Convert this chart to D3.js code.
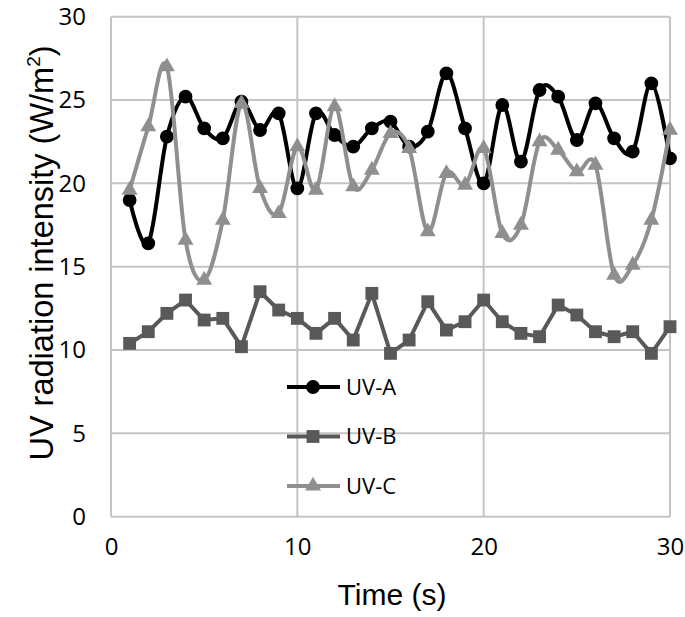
<!DOCTYPE html>
<html><head><meta charset="utf-8">
<script src="https://cdn.jsdelivr.net/npm/d3@7"></script>
<style>body{margin:0;background:#fff}</style>
</head><body>
<svg id="c" width="685" height="617"></svg>
<script>
const time = d3.range(1, 31);
const uvA = [19.0,16.4,22.8,25.2,23.3,22.7,24.9,23.2,24.2,19.7,24.2,22.9,22.2,23.3,23.7,22.2,23.1,26.6,23.3,20.0,24.7,21.3,25.6,25.2,22.6,24.8,22.7,21.9,26.0,21.5];
const uvB = [10.4,11.1,12.2,13.0,11.8,11.9,10.2,13.5,12.4,11.9,11.0,11.9,10.6,13.4,9.8,10.6,12.9,11.2,11.7,13.0,11.7,11.0,10.8,12.7,12.1,11.1,10.8,11.1,9.8,11.4];
const uvC = [19.6,23.4,27.0,16.6,14.2,17.8,24.8,19.7,18.2,22.2,19.6,24.6,19.8,20.8,23.0,22.1,17.1,20.6,19.9,22.1,17.0,17.5,22.5,22.0,20.7,21.1,14.5,15.1,17.8,23.2];
const xTicks = [0,10,20,30];
const yTicks = [0,5,10,15,20,25,30];
const seriesNames = ["UV-A","UV-B","UV-C"];

const series = [
  {name: seriesNames[0], values: uvA, color: "#000000", shape: d3.symbolCircle, curve: d3.curveCardinal.tension(0)},
  {name: seriesNames[1], values: uvB, color: "#595959", shape: d3.symbolSquare, curve: d3.curveLinear},
  {name: seriesNames[2], values: uvC, color: "#8f8f8f", shape: d3.symbolTriangle, curve: d3.curveCardinal.tension(0)}
];

const svg = d3.select("#c");
const L = 111, R = 670, T = 16.7, B = 516.7;
const x = d3.scaleLinear().domain([0, 30]).range([L, R]);
const y = d3.scaleLinear().domain([0, 30]).range([B, T]);
const grid = "#c4c4c4";

const g = svg.append("g");
g.selectAll(".hg").data(yTicks).enter().append("line")
  .attr("x1", L).attr("x2", R).attr("y1", d => y(d)).attr("y2", d => y(d))
  .attr("stroke", grid).attr("stroke-width", 2);
g.selectAll(".vg").data(xTicks).enter().append("line")
  .attr("y1", T).attr("y2", B).attr("x1", d => x(d)).attr("x2", d => x(d))
  .attr("stroke", grid).attr("stroke-width", 2);

const font = "'Open Sans', sans-serif";
const ax = svg.append("g").attr("transform", `translate(0,${B})`)
  .call(d3.axisBottom(x).tickValues(xTicks).tickSize(0).tickPadding(21));
ax.select(".domain").remove();
ax.selectAll("text").attr("font-family", font).attr("font-size", 24).attr("fill", "#000");
const ay = svg.append("g").attr("transform", `translate(${L},0)`)
  .call(d3.axisLeft(y).tickValues(yTicks).tickSize(0).tickPadding(25));
ay.select(".domain").remove();
ay.selectAll("text").attr("font-family", font).attr("font-size", 24).attr("fill", "#000");

const symSize = s => s === d3.symbolTriangle ? 110 : (s === d3.symbolSquare ? 165 : 150);

series.forEach(s => {
  const line = d3.line().x((d, i) => x(time[i])).y(d => y(d)).curve(s.curve);
  svg.append("path").datum(s.values).attr("d", line)
    .attr("fill", "none").attr("stroke", s.color).attr("stroke-width", 4)
    .attr("stroke-linejoin", "round");
  const sym = d3.symbol().type(s.shape).size(symSize(s.shape));
  svg.append("g").selectAll("path").data(s.values).enter().append("path")
    .attr("d", sym)
    .attr("transform", (d, i) => `translate(${x(time[i])},${y(d)})`)
    .attr("fill", s.color);
});

const leg = svg.append("g");
series.forEach((s, i) => {
  const yy = 387 + i * 49.5;
  leg.append("line").attr("x1", 287).attr("x2", 340).attr("y1", yy).attr("y2", yy)
    .attr("stroke", s.color).attr("stroke-width", 4);
  leg.append("path").attr("d", d3.symbol().type(s.shape).size(symSize(s.shape))())
    .attr("transform", `translate(313,${yy})`).attr("fill", s.color);
  leg.append("text").attr("x", 346).attr("y", yy).attr("dy", "0.35em")
    .attr("font-family", font).attr("font-size", 22).attr("fill", "#000").text(s.name);
});

svg.append("text").attr("x", 392).attr("y", 605)
  .attr("text-anchor", "middle").attr("font-family", "'Liberation Sans', Arial, sans-serif")
  .attr("font-size", 30).attr("fill", "#000").text("Time (s)");
const yt = svg.append("text").attr("transform", "translate(53,253) rotate(-90)")
  .attr("text-anchor", "middle").attr("font-family", "'Liberation Sans', Arial, sans-serif")
  .attr("font-size", 32.5).attr("fill", "#000");
yt.append("tspan").text("UV radiation intensity (W/m");
yt.append("tspan").attr("font-size", 19).attr("dy", -13).text("2");
yt.append("tspan").attr("dy", 13).text(")");
</script>
</body></html>
